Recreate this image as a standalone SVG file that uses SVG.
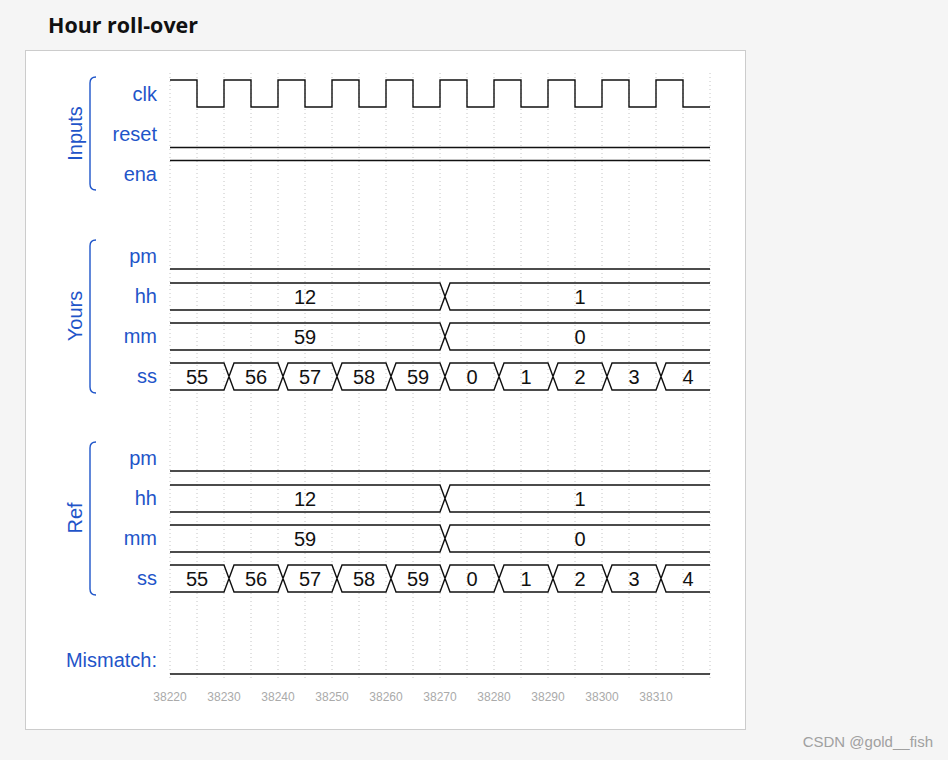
<svg xmlns="http://www.w3.org/2000/svg" width="948" height="760" viewBox="0 0 948 760">
<style>
.lbl{font-family:"Liberation Sans",Arial,sans-serif;font-size:20px;fill:#1f55c9;text-anchor:end}
.grp{font-family:"Liberation Sans",Arial,sans-serif;font-size:20px;fill:#1f55c9;text-anchor:middle}
.val{font-family:"Liberation Sans",Arial,sans-serif;font-size:20px;fill:#111;text-anchor:middle}
.ax{font-family:"Liberation Sans",Arial,sans-serif;font-size:12px;fill:#aaaaaa;text-anchor:middle}
.sig{fill:none;stroke:#111;stroke-width:1.4}
.brace{fill:none;stroke:#1f55c9;stroke-width:1.4}
.grid{stroke:#c4c4c4;stroke-width:1;stroke-dasharray:1,3}
</style>
<rect x="0" y="0" width="948" height="760" fill="#f5f5f5"/>
<text x="48" y="33" font-family="'Open Sans','DejaVu Sans',sans-serif" font-weight="700" font-size="21" fill="#111" textLength="150" lengthAdjust="spacingAndGlyphs">Hour roll-over</text>
<rect x="25.5" y="50.5" width="720" height="679" fill="#ffffff" stroke="#cccccc" stroke-width="1"/>

<g id="grid">
<path class="grid" d="M170,73V679M197,73V679M224,73V679M251,73V679M278,73V679M305,73V679M332,73V679M359,73V679M386,73V679M413,73V679M440,73V679M467,73V679M494,73V679M521,73V679M548,73V679M575,73V679M602,73V679M629,73V679M656,73V679M683,73V679M710,73V679"/>
</g>

<g id="axis">
<text class="ax" x="170" y="701">38220</text>
<text class="ax" x="224" y="701">38230</text>
<text class="ax" x="278" y="701">38240</text>
<text class="ax" x="332" y="701">38250</text>
<text class="ax" x="386" y="701">38260</text>
<text class="ax" x="440" y="701">38270</text>
<text class="ax" x="494" y="701">38280</text>
<text class="ax" x="548" y="701">38290</text>
<text class="ax" x="602" y="701">38300</text>
<text class="ax" x="656" y="701">38310</text>
</g>

<g id="group-inputs">
<path class="brace" d="M96,77Q90,77 90,83V184Q90,190 96,190"/>
<text class="grp" transform="translate(82,133.5) rotate(-90)">Inputs</text>
</g>
<g id="group-yours">
<path class="brace" d="M96,240Q90,240 90,246V387Q90,393 96,393"/>
<text class="grp" transform="translate(82,316) rotate(-90)">Yours</text>
</g>
<g id="group-ref">
<path class="brace" d="M96,442Q90,442 90,448V589Q90,595 96,595"/>
<text class="grp" transform="translate(82,518) rotate(-90)">Ref</text>
</g>

<g id="connectors">
<!-- clk -->
<path class="sig" d="M170,80H197V107H224V80H251V107H278V80H305V107H332V80H359V107H386V80H413V107H440V80H467V107H494V80H521V107H548V80H575V107H602V80H629V107H656V80H683V107H710"/>
<!-- reset, ena -->
<path class="sig" d="M170,147.5H710M170,160.5H710"/>
<!-- Yours pm -->
<path class="sig" d="M170,269H710"/>
<!-- Yours hh -->
<path class="sig" d="M170,283H440L450,310H710M170,310H440L450,283H710"/>
<!-- Yours mm -->
<path class="sig" d="M170,323H440L450,350H710M170,350H440L450,323H710"/>
<!-- Yours ss -->
<path class="sig" d="M170,363H224L234,390H278L288,363H332L342,390H386L396,363H440L450,390H494L504,363H548L558,390H602L612,363H656L666,390H710M170,390H224L234,363H278L288,390H332L342,363H386L396,390H440L450,363H494L504,390H548L558,363H602L612,390H656L666,363H710"/>
<!-- Ref pm -->
<path class="sig" d="M170,471H710"/>
<!-- Ref hh -->
<path class="sig" d="M170,485H440L450,512H710M170,512H440L450,485H710"/>
<!-- Ref mm -->
<path class="sig" d="M170,525H440L450,552H710M170,552H440L450,525H710"/>
<!-- Ref ss -->
<path class="sig" d="M170,565H224L234,592H278L288,565H332L342,592H386L396,565H440L450,592H494L504,565H548L558,592H602L612,565H656L666,592H710M170,592H224L234,565H278L288,592H332L342,565H386L396,592H440L450,565H494L504,592H548L558,565H602L612,592H656L666,565H710"/>
<!-- Mismatch -->
<path class="sig" d="M170,674H710"/>
</g>

<g id="node-clk"><text class="lbl" x="157" y="101">clk</text></g>
<g id="node-reset"><text class="lbl" x="157" y="141">reset</text></g>
<g id="node-ena"><text class="lbl" x="157" y="181">ena</text></g>

<g id="node-yours-pm"><text class="lbl" x="157" y="263">pm</text></g>
<g id="node-yours-hh"><text class="lbl" x="157" y="303">hh</text>
<text class="val" x="305" y="303.5">12</text><text class="val" x="580" y="303.5">1</text></g>
<g id="node-yours-mm"><text class="lbl" x="157" y="343">mm</text>
<text class="val" x="305" y="343.5">59</text><text class="val" x="580" y="343.5">0</text></g>
<g id="node-yours-ss"><text class="lbl" x="157" y="383">ss</text>
<text class="val" x="197" y="383.5">55</text><text class="val" x="256" y="383.5">56</text><text class="val" x="310" y="383.5">57</text><text class="val" x="364" y="383.5">58</text><text class="val" x="418" y="383.5">59</text><text class="val" x="472" y="383.5">0</text><text class="val" x="526" y="383.5">1</text><text class="val" x="580" y="383.5">2</text><text class="val" x="634" y="383.5">3</text><text class="val" x="688" y="383.5">4</text></g>

<g id="node-ref-pm"><text class="lbl" x="157" y="465">pm</text></g>
<g id="node-ref-hh"><text class="lbl" x="157" y="505">hh</text>
<text class="val" x="305" y="505.5">12</text><text class="val" x="580" y="505.5">1</text></g>
<g id="node-ref-mm"><text class="lbl" x="157" y="545">mm</text>
<text class="val" x="305" y="545.5">59</text><text class="val" x="580" y="545.5">0</text></g>
<g id="node-ref-ss"><text class="lbl" x="157" y="585">ss</text>
<text class="val" x="197" y="585.5">55</text><text class="val" x="256" y="585.5">56</text><text class="val" x="310" y="585.5">57</text><text class="val" x="364" y="585.5">58</text><text class="val" x="418" y="585.5">59</text><text class="val" x="472" y="585.5">0</text><text class="val" x="526" y="585.5">1</text><text class="val" x="580" y="585.5">2</text><text class="val" x="634" y="585.5">3</text><text class="val" x="688" y="585.5">4</text></g>

<g id="node-mismatch"><text class="lbl" x="157" y="667">Mismatch:</text></g>

<text x="933" y="747" font-family="'Liberation Sans',Arial,sans-serif" font-size="15" fill="#a0a0a0" text-anchor="end">CSDN @gold__fish</text>
</svg>
